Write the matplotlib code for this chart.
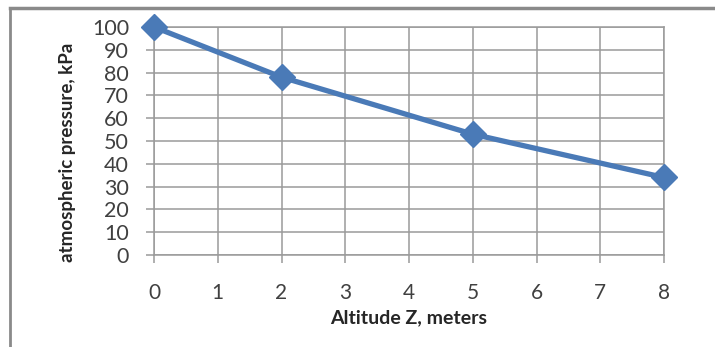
import matplotlib
matplotlib.use("Agg")
import matplotlib.pyplot as plt
from matplotlib.lines import Line2D

altitude = [0, 2, 5, 8]
pressure = [100, 78, 53, 34]
x_ticks = [0, 1, 2, 3, 4, 5, 6, 7, 8]
y_ticks = [0, 10, 20, 30, 40, 50, 60, 70, 80, 90, 100]

plt.rcParams['font.family'] = ['Lato', 'DejaVu Sans']

fig = plt.figure(figsize=(7.15, 3.47), dpi=100)
fig.patch.set_facecolor('white')
ax = fig.add_axes([154/715, 1-255/347, (664-154)/715, (255-27)/347])

grid_c = '#9a9a9a'
ax.set_xlim(0, 8)
ax.set_ylim(0, 100)
ax.set_xticks(x_ticks)
ax.set_yticks(y_ticks)
ax.grid(True, color=grid_c, linewidth=1.1)
for s in ax.spines.values():
    s.set_color(grid_c)
    s.set_linewidth(1.1)
ax.tick_params(axis='both', color=grid_c, width=1.1, length=6, labelcolor='#404040')
ax.tick_params(axis='y', labelsize=15.5, pad=12)
ax.tick_params(axis='x', labelsize=15, pad=14)

ax.plot(altitude, pressure, color='#4a7ab7', linewidth=3.8, marker='D',
        markersize=13, markerfacecolor='#4a7ab7', markeredgecolor='#4a7ab7',
        clip_on=False, zorder=5)

ax.set_xlabel('Altitude Z, meters', fontsize=14, fontweight='bold', color='#262626', labelpad=5)
ax.set_ylabel('atmospheric pressure, kPa', fontsize=13.5, fontweight='bold', color='#262626')
ax.yaxis.set_label_coords(-0.152, 0.45)

fig.add_artist(Line2D([10/715, 10/715], [0, 1-8/347], transform=fig.transFigure, color='#8a8a8a', linewidth=2))
fig.add_artist(Line2D([10/715, 1], [1-8/347, 1-8/347], transform=fig.transFigure, color='#8a8a8a', linewidth=2.5))

fig.savefig('out.png', dpi=100)
